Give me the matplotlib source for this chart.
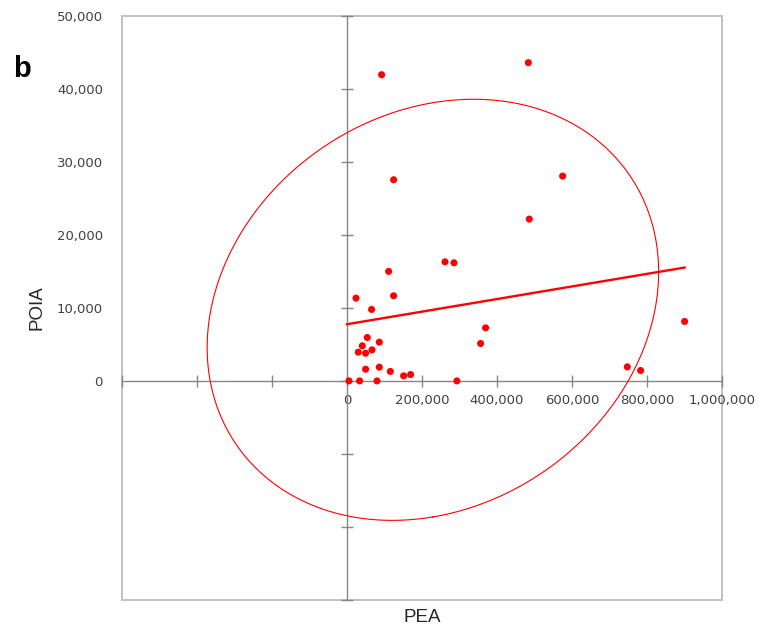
import numpy as np
import matplotlib
matplotlib.use("Agg")
import matplotlib.pyplot as plt
from matplotlib.patches import Rectangle
from matplotlib.ticker import FuncFormatter

# PEA / POIA values
pea = [5300, 33600, 80000, 293000,
       49600, 86100, 115500, 151000, 169600,
       30100, 49600, 40800, 66700, 54100, 86100,
       24000, 65600, 124300, 111000, 261300, 285300,
       356300, 369600, 575000, 486100, 92300, 483500,
       124300, 900300, 747500, 783000]
poia = [0, 0, 0, 0,
        1600, 1880, 1290, 690, 870,
        3930, 3790, 4800, 4250, 5940, 5300,
        11330, 9780, 11650, 14990, 16300, 16170,
        5120, 7260, 28040, 22150, 41920, 43570,
        27540, 8140, 1920, 1420]

x_ticks = [-600000, -400000, -200000, 0, 200000, 400000, 600000, 800000, 1000000]
y_ticks = [-30000, -20000, -10000, 0, 10000, 20000, 30000, 40000, 50000]
y_labels = [0, 10000, 20000, 30000, 40000, 50000]
conf_scale = 2.4477  # 95% ellipse, 2 dof

RED = "#FF0000"
x = np.array(pea, dtype=float)
y = np.array(poia, dtype=float)

fig = plt.figure(figsize=(7.62, 6.31), dpi=100, facecolor="white")
ax = fig.add_axes([122 / 762, 31 / 631, 600 / 762, 584.3 / 631])
ax.set_xlim(-600000, 1000000)
ax.set_ylim(-30000, 50000)

# confidence ellipse from the covariance
cov = np.cov(x, y)
vals, vecs = np.linalg.eigh(cov)
t = np.linspace(0, 2 * np.pi, 400)
circ = np.vstack([np.cos(t), np.sin(t)]) * (conf_scale * np.sqrt(vals))[:, None]
ell = vecs @ circ
ax.plot(x.mean() + ell[0], y.mean() + ell[1], color=RED, lw=0.8, zorder=3)

# linear trend line
slope, icpt = np.polyfit(x, y, 1)
xl = np.array([0, x.max()])
ax.plot(xl, icpt + slope * xl, color=RED, lw=1.7, zorder=4)

ax.scatter(x, y, s=26, color=RED, edgecolors="none", zorder=5)

# axes crossing at zero
for side in ["left", "bottom"]:
    ax.spines[side].set_position(("data", 0))
    ax.spines[side].set_color("#868686")
    ax.spines[side].set_linewidth(1.0)
for side in ["top", "right"]:
    ax.spines[side].set_visible(False)
ax.add_patch(Rectangle((0, 0), 1, 1, transform=ax.transAxes, fill=False,
                       edgecolor="#C0C0C0", lw=1.4, clip_on=False, zorder=1))

ax.set_xticks(x_ticks)
ax.set_yticks(y_ticks)
ax.xaxis.set_major_formatter(FuncFormatter(lambda v, p: f"{v:,.0f}" if v >= 0 else ""))
ax.tick_params(axis="both", direction="inout", length=8.6, width=1.0, color="#868686")
ax.tick_params(axis="x", labelsize=9.5, labelcolor="#404040", pad=5.5)
ax.tick_params(axis="y", labelleft=False)

sec = ax.secondary_yaxis(0.0)
sec.set_yticks(y_labels)
sec.yaxis.set_major_formatter(FuncFormatter(lambda v, p: f"{v:,.0f}"))
sec.spines["left"].set_visible(False)
sec.tick_params(length=0, pad=13.7, labelsize=9.5, labelcolor="#404040")

fig.text(37 / 762, 1 - 308 / 631, "POIA", rotation=90, ha="center", va="center",
         fontsize=13.5, family="Liberation Sans", color="#262626")
fig.text(422 / 762, 1 - 617 / 631, "PEA", ha="center", va="center",
         fontsize=13.5, family="Liberation Sans", color="#262626")
fig.text(13 / 762, 1 - 77 / 631, "b", ha="left", va="baseline",
         fontsize=21, fontweight="bold", family="Liberation Sans", color="black")

fig.savefig("out.png", dpi=100, facecolor="white")
